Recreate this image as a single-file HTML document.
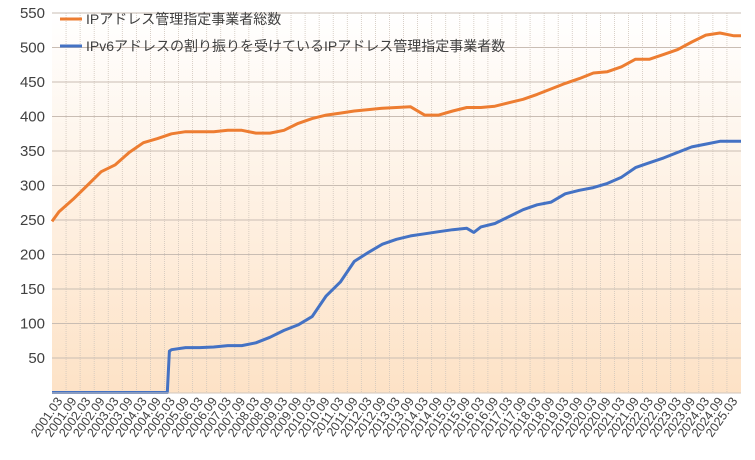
<!DOCTYPE html>
<html><head><meta charset="utf-8"><style>
html,body{margin:0;padding:0;background:#fff;}
svg{display:block;font-family:"Liberation Sans","Noto Sans CJK JP",sans-serif;}
</style></head><body>
<svg id="chart" width="755" height="460" viewBox="0 0 755 460">
<defs><linearGradient id="bg" x1="0" y1="0" x2="0" y2="1">
<stop offset="0" stop-color="#ffffff"/><stop offset="1" stop-color="#fde2c6"/></linearGradient></defs>
<rect x="52" y="13" width="689" height="380" fill="url(#bg)"/>
<g id="grid"></g><g id="series"></g><g id="axes"></g>
<g font-size="14" fill="#404040">
<g><line x1="60" y1="19" x2="82" y2="19" stroke="#ed7d31" stroke-width="3"/><text x="86" y="24">IPアドレス管理指定事業者総数</text></g>
<g><line x1="60" y1="46" x2="82" y2="46" stroke="#4472c4" stroke-width="3"/><text x="86" y="51">IPv6アドレスの割り振りを受けているIPアドレス管理指定事業者数</text></g>
</g>
</svg>
<script>
const categories=[];for(let y=2001;y<=2025;y++){categories.push(y+".03");if(y<2025)categories.push(y+".09");}
const yTicks=[50,100,150,200,250,300,350,400,450,500,550];
const totalT=[-0.5,0,1,2,3,4,5,6,7,8,9,10,11,12,13,14,15,16,17,18,19,20,21,22,23,24,25,26,27,28,29,30,31,32,33,34,35,36,37,38,39,40,41,42,43,44,45,46,47,48,48.5];
const totalV=[248,262,280,300,320,330,348,362,368,375,378,378,378,380,380,376,376,380,390,397,402,405,408,410,412,413,414,402,402,408,413,413,415,420,425,432,440,448,455,463,465,472,483,483,490,497,508,518,521,517,517];
const ipv6T=[-0.5,7.7,7.85,8,9,10,11,12,13,14,15,16,17,18,19,20,21,22,23,24,25,26,27,28,29,29.5,30,31,32,33,34,35,36,37,38,39,40,41,42,43,44,45,46,47,48,48.5];
const ipv6V=[0,0,60,62,65,65,66,68,68,72,80,90,98,110,140,160,190,203,215,222,227,230,233,236,238,232,240,245,255,265,272,276,288,293,297,303,312,326,333,340,348,356,360,364,364,364];
const NS="http://www.w3.org/2000/svg";
const X0=52,BW=689/categories.length,Y0=392.5,K=34.5/50;
const xs=t=>X0+BW*(t+0.5), ys=v=>Y0-v*K;
function mk(tag,attrs,parent){const e=document.createElementNS(NS,tag);for(const k in attrs)e.setAttribute(k,attrs[k]);parent.appendChild(e);return e;}
const grid=document.getElementById('grid'),axes=document.getElementById('axes'),ser=document.getElementById('series');
for(let i=1;i<categories.length;i++){const x=X0+BW*i;
 const l=mk('line',{x1:x,y1:13,x2:x,y2:393,stroke:'#d0c6bc','stroke-width':0.8,'stroke-dasharray':'1 1'},grid);
 
 }
yTicks.forEach(v=>{const y=ys(v);
 const l=mk('line',{x1:X0,y1:y,x2:741,y2:y,stroke:'#c9bdb3','stroke-width':1},grid);
 
 
 const t=mk('text',{x:45,y:y+5,'text-anchor':'end','font-size':15,fill:'#404040'},axes);t.textContent=v;
 
 });
const ax=mk('line',{x1:X0,y1:393,x2:741,y2:393,stroke:'#d0c6bc','stroke-width':1},axes);


categories.forEach((c,i)=>{const x=xs(i)+4;
 const t=mk('text',{x:x,y:401,'text-anchor':'end','font-size':12.5,fill:'#404040',transform:`rotate(-55 ${x} 401)`},axes);t.textContent=c;
 
 });
function line(T,V,color,name){const d=T.map((t,i)=>(i?'L':'M')+xs(t).toFixed(1)+','+ys(V[i]).toFixed(1)).join(' ');
 const p=mk('path',{d:d,fill:'none',stroke:color,'stroke-width':3,'stroke-linejoin':'round'},ser);
 
 }
line(totalT,totalV,'#ed7d31','series-total-line');
line(ipv6T,ipv6V,'#4472c4','series-ipv6-line');
</script>
</body></html>
